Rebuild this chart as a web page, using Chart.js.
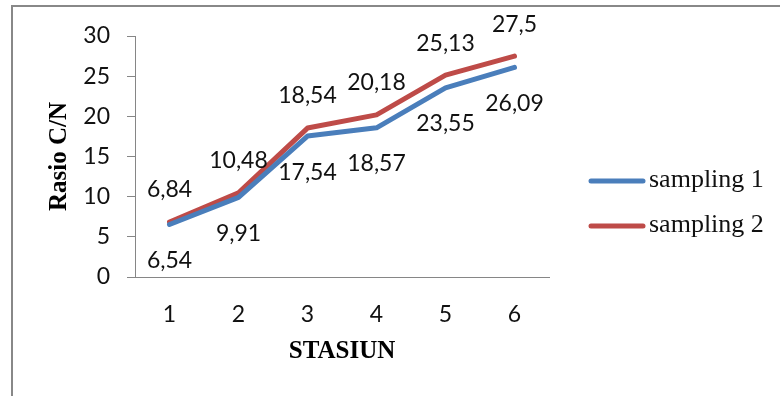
<!DOCTYPE html>
<html>
<head>
<meta charset="utf-8">
<script src="https://cdn.jsdelivr.net/npm/chart.js@4.4.1/dist/chart.umd.min.js"></script>
<style>
  html, body { margin: 0; padding: 0; background: #fff; }
  #wrap { position: relative; width: 780px; height: 396px; overflow: hidden; }
  #frame { position: absolute; left: 11px; top: 5px; right: -4px; bottom: -4px;
           border-left: 2px solid #888; border-top: 2px solid #888; }
  canvas { position: absolute; left: 0; top: 0; }
</style>
</head>
<body>
<div id="wrap">
  <div id="frame"></div>
  <canvas id="c" width="780" height="396"></canvas>
</div>
<script>
// Station numbers on the horizontal axis
const stations = ['1', '2', '3', '4', '5', '6'];
// C/N ratio per station for each sampling round
const sampling1 = [6.54, 9.91, 17.54, 18.57, 23.55, 26.09];
const sampling2 = [6.84, 10.48, 18.54, 20.18, 25.13, 27.5];
const seriesNames = ['sampling 1', 'sampling 2'];
const yMin = 0, yMax = 30, yStep = 5;

const BLUE = '#4A7EBB';
const RED = '#BE4B48';
const AXIS = '#868686';
const tickFont = { family: 'Lato', size: 23 };
const titleFont = { family: 'Liberation Serif', size: 25, weight: 'bold' };

const fmt = v => String(v).replace('.', ',');

// Value labels: first series below its line, second series above
const valueLabels = {
  id: 'valueLabels',
  afterDatasetsDraw(chart) {
    const ctx = chart.ctx;
    ctx.save();
    ctx.font = '23px Lato';
    ctx.fillStyle = '#111';
    ctx.textAlign = 'center';
    ctx.textBaseline = 'middle';
    chart.data.datasets.forEach((ds, i) => {
      const meta = chart.getDatasetMeta(i);
      const dy = i === 0 ? 36 : -32;
      meta.data.forEach((pt, j) => {
        ctx.fillText(fmt(ds.data[j]), pt.x, pt.y + dy);
      });
    });
    ctx.restore();
  }
};

// Legend to the right of the plot
const sideLegend = {
  id: 'sideLegend',
  afterDraw(chart) {
    const ctx = chart.ctx;
    ctx.save();
    chart.data.datasets.forEach((ds, i) => {
      const y = 181 + i * 45;
      ctx.strokeStyle = ds.borderColor;
      ctx.lineWidth = 5;
      ctx.lineCap = 'round';
      ctx.beginPath();
      ctx.moveTo(591, y);
      ctx.lineTo(643, y);
      ctx.stroke();
      ctx.fillStyle = '#111';
      ctx.font = '26px "Liberation Serif"';
      ctx.textAlign = 'left';
      ctx.textBaseline = 'middle';
      ctx.fillText(ds.label, 649, y - 1);
    });
    ctx.restore();
  }
};

new Chart(document.getElementById('c'), {
  type: 'line',
  data: {
    labels: stations,
    datasets: [
      { label: seriesNames[0], data: sampling1, borderColor: BLUE, backgroundColor: BLUE,
        borderWidth: 5, pointRadius: 0, tension: 0, borderJoinStyle: 'round', borderCapStyle: 'round' },
      { label: seriesNames[1], data: sampling2, borderColor: RED, backgroundColor: RED,
        borderWidth: 5, pointRadius: 0, tension: 0, borderJoinStyle: 'round', borderCapStyle: 'round' }
    ]
  },
  options: {
    responsive: false,
    animation: false,
    devicePixelRatio: 1,
    layout: { padding: { left: 0, top: 36, right: 231, bottom: 0 } },
    plugins: { legend: { display: false }, tooltip: { enabled: false } },
    scales: {
      x: {
        offset: true,
        grid: { display: true, drawOnChartArea: false, drawTicks: false },
        border: { display: true, color: AXIS, width: 1 },
        ticks: { font: tickFont, color: '#111', padding: 24, maxRotation: 0 },
        title: { display: true, text: 'STASIUN', font: titleFont, color: '#000', padding: { top: 0, bottom: 29 } },
        afterFit(s) { s.height = 119; }
      },
      y: {
        min: yMin, max: yMax,
        grid: { display: true, drawOnChartArea: false, drawTicks: true, tickLength: 8, color: AXIS },
        border: { display: true, color: AXIS, width: 1 },
        ticks: { stepSize: yStep, font: tickFont, color: '#111', padding: 17 },
        title: { display: true, text: 'Rasio C/N', font: titleFont, color: '#000', padding: { top: 45, bottom: 0 } },
        afterFit(s) { s.width = 135; }
      }
    }
  },
  plugins: [valueLabels, sideLegend]
});
</script>
</body>
</html>
